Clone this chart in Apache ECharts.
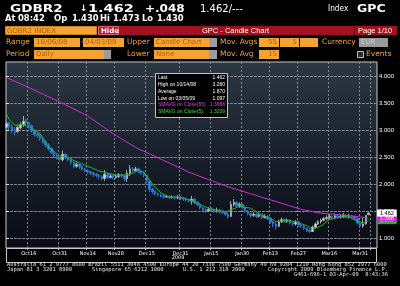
<!DOCTYPE html>
<html><head><meta charset="utf-8">
<script src="https://cdn.jsdelivr.net/npm/echarts@6/dist/echarts.min.js"></script>
<style>html,body{margin:0;padding:0;background:#000;}#c{width:400px;height:286px;}</style>
</head><body><div id="c"></div>
<script>
// ---------- data ----------
const startDate = '2008-10-06';
const endDate = '2009-04-03';
function businessDays(s, e) {
  const out = []; let d = new Date(s + 'T00:00:00Z'); const end = new Date(e + 'T00:00:00Z');
  while (d <= end) { const w = d.getUTCDay(); if (w !== 0 && w !== 6) out.push(d.toISOString().slice(0, 10)); d = new Date(d.getTime() + 86400000); }
  return out;
}
const categories = businessDays(startDate, endDate);

const opens = [
 3.05,3.13,3.06,3.00,2.97,3.04,3.10,3.17,3.13,3.08,
 2.99,2.92,2.90,2.85,2.78,2.72,2.66,2.58,2.52,2.47,
 2.45,2.55,2.50,2.45,2.40,2.33,2.36,2.32,2.28,2.25,
 2.22,2.20,2.18,2.16,2.14,2.10,2.18,2.12,2.15,2.12,
 2.14,2.17,2.15,2.10,2.20,2.28,2.25,2.28,2.24,2.20,
 2.16,2.05,1.90,1.86,1.82,1.80,1.78,1.76,1.77,1.75,
 1.76,1.74,1.76,1.73,1.72,1.70,1.69,1.72,1.66,1.62,
 1.56,1.52,1.50,1.53,1.51,1.50,1.52,1.48,1.47,1.44,
 1.40,1.62,1.66,1.60,1.62,1.56,1.50,1.45,1.42,1.44,
 1.40,1.43,1.38,1.40,1.36,1.30,1.26,1.22,1.30,1.34,
 1.31,1.33,1.28,1.26,1.30,1.24,1.22,1.18,1.14,1.12,
 1.20,1.26,1.30,1.33,1.36,1.38,1.40,1.38,1.41,1.39,
 1.40,1.42,1.39,1.41,1.38,1.36,1.28,1.22,1.26,1.430];
const closes = [
 3.12,3.06,3.00,2.97,3.05,3.10,3.16,3.14,3.08,2.98,
 2.92,2.90,2.84,2.78,2.72,2.65,2.58,2.52,2.48,2.46,
 2.55,2.50,2.45,2.40,2.33,2.36,2.32,2.28,2.25,2.22,
 2.20,2.18,2.16,2.14,2.10,2.18,2.12,2.15,2.12,2.14,
 2.17,2.15,2.10,2.20,2.28,2.25,2.28,2.24,2.20,2.16,
 2.05,1.90,1.86,1.82,1.80,1.78,1.76,1.77,1.75,1.76,
 1.74,1.76,1.73,1.72,1.70,1.69,1.72,1.66,1.62,1.56,
 1.52,1.50,1.53,1.51,1.50,1.52,1.48,1.47,1.44,1.40,
 1.62,1.66,1.60,1.62,1.56,1.50,1.45,1.42,1.44,1.40,
 1.43,1.38,1.40,1.36,1.30,1.26,1.22,1.30,1.34,1.31,
 1.33,1.28,1.26,1.30,1.24,1.22,1.18,1.14,1.12,1.20,
 1.26,1.30,1.33,1.36,1.38,1.40,1.38,1.41,1.39,1.40,
 1.42,1.39,1.41,1.38,1.36,1.28,1.22,1.26,1.414,1.462];
const lows = [
 3.02,3.00,2.94,2.90,2.95,3.01,3.06,3.08,3.03,2.95,
 2.88,2.85,2.80,2.75,2.68,2.62,2.55,2.48,2.45,2.42,
 2.42,2.46,2.42,2.36,2.29,2.30,2.28,2.25,2.22,2.19,
 2.17,2.14,2.12,2.10,2.07,2.06,2.09,2.10,2.09,2.10,
 2.11,2.12,2.05,2.04,2.15,2.21,2.22,2.20,2.17,2.12,
 2.02,1.85,1.82,1.79,1.77,1.75,1.73,1.74,1.72,1.73,
 1.71,1.72,1.70,1.69,1.67,1.66,1.62,1.63,1.59,1.53,
 1.49,1.47,1.48,1.48,1.47,1.47,1.45,1.44,1.41,1.36,
 1.39,1.58,1.57,1.56,1.53,1.47,1.42,1.38,1.39,1.37,
 1.38,1.35,1.36,1.33,1.27,1.20,1.16,1.20,1.28,1.28,
 1.28,1.25,1.22,1.23,1.21,1.18,1.15,1.11,1.097,1.11,
 1.18,1.24,1.27,1.31,1.33,1.35,1.34,1.36,1.36,1.36,
 1.37,1.36,1.36,1.35,1.33,1.25,1.20,1.19,1.25,1.430];
const highs = [
 3.16,3.15,3.10,3.05,3.09,3.14,3.26,3.21,3.16,3.10,
 3.02,2.97,2.93,2.88,2.81,2.75,2.68,2.61,2.55,2.51,
 2.62,2.58,2.53,2.48,2.42,2.40,2.38,2.34,2.30,2.27,
 2.25,2.23,2.20,2.18,2.16,2.26,2.20,2.19,2.17,2.18,
 2.20,2.19,2.17,2.26,2.35,2.31,2.32,2.30,2.26,2.22,
 2.17,2.07,1.93,1.88,1.84,1.82,1.80,1.80,1.79,1.79,
 1.78,1.80,1.78,1.76,1.75,1.73,1.78,1.74,1.68,1.64,
 1.58,1.55,1.57,1.56,1.54,1.56,1.54,1.52,1.50,1.46,
 1.68,1.72,1.68,1.66,1.64,1.58,1.52,1.47,1.48,1.46,
 1.47,1.45,1.44,1.42,1.38,1.32,1.28,1.34,1.38,1.36,
 1.36,1.35,1.30,1.33,1.32,1.27,1.24,1.20,1.18,1.23,
 1.29,1.33,1.36,1.39,1.42,1.44,1.42,1.45,1.43,1.44,
 1.46,1.44,1.45,1.43,1.42,1.38,1.31,1.37,1.43,1.473];

// moving averages (date, value)
const sma55Dates = ['2008-10-06','2008-10-15','2008-10-31','2008-11-14','2008-11-27','2008-12-10','2008-12-16','2008-12-22','2008-12-25','2009-01-05','2009-01-14','2009-01-26','2009-02-04','2009-02-09','2009-02-18','2009-03-02','2009-03-11','2009-03-20','2009-03-31','2009-04-03'];
const sma55Values = [3.97,3.81,3.52,3.26,2.93,2.65,2.56,2.46,2.39,2.22,2.08,1.93,1.82,1.77,1.66,1.53,1.46,1.43,1.39,1.3688];
const sma5Dates = ['2008-10-06','2008-10-07','2008-10-09','2008-10-14','2008-10-16','2008-10-20','2008-10-22','2008-10-27','2008-10-31','2008-11-05','2008-11-11','2008-11-14','2008-11-20','2008-11-26','2008-12-01','2008-12-05','2008-12-10','2008-12-12','2008-12-16','2008-12-18','2008-12-22','2008-12-25','2008-12-31','2009-01-05','2009-01-09','2009-01-14','2009-01-20','2009-01-22','2009-01-26','2009-01-29','2009-02-04','2009-02-09','2009-02-13','2009-02-17','2009-02-23','2009-02-26','2009-03-04','2009-03-06','2009-03-11','2009-03-16','2009-03-20','2009-03-25','2009-03-30','2009-04-01','2009-04-03'];
const sma5Values = [3.30,3.19,3.09,3.10,3.06,3.00,2.93,2.69,2.52,2.48,2.39,2.33,2.24,2.19,2.16,2.18,2.25,2.22,2.08,1.93,1.84,1.76,1.75,1.71,1.62,1.55,1.51,1.48,1.52,1.59,1.55,1.45,1.37,1.30,1.33,1.30,1.23,1.16,1.22,1.34,1.39,1.39,1.31,1.28,1.3209];

const tickDates = ['2008-10-16','2008-10-31','2008-11-14','2008-11-28','2008-12-15','2008-12-31','2009-01-15','2009-01-30','2009-02-13','2009-02-27','2009-03-16','2009-03-31'];
const tickLabels = ['Oct16','Oct31','Nov14','Nov28','Dec15','Dec31','Jan15','Jan30','Feb13','Feb27','Mar16','Mar31'];
const yearLabel = '2009';

const tagValues = [1.3209, 1.3688, 1.462];
const tagTexts = ['1.320', '1.368', '1.462'];

const infoLabels = ['Last', 'High on 10/14/08', 'Average', 'Low on 03/05/09', 'SMAVG on Close(55)', 'SMAVG on Close(5)'];
const infoValues = ['1.462', '3.260', '1.870', '1.097', '1.3688', '1.3209'];

// ---------- build ----------
const candleData = categories.map((c, i) => [opens[i], closes[i], lows[i], highs[i]]);
function alignTo(dates, vals) { const m = {}; dates.forEach((d, i) => m[d] = vals[i]); return categories.map(c => (c in m ? m[c] : null)); }
const sma55Data = alignTo(sma55Dates, sma55Values);
const sma5Data = alignTo(sma5Dates, sma5Values);
const tickSet = new Set(tickDates);
const isTick = (idx, val) => tickSet.has(val !== undefined ? val : categories[idx]);

const ORANGE = '#f5a331', BOXTXT = '#b35f00', MAG = '#cc2ccc', GRN = '#22b422';
const G = [];
function txt(x, y, text, font, fill, extra) {
  G.push(Object.assign({ type: 'text', x: x, y: y, z: 100, silent: true,
    style: { text: text, font: font, fill: fill, align: 'left', verticalAlign: 'middle' } }, extra || {}));
}
function box(x, y, w, h, fill, stroke) {
  G.push({ type: 'rect', z: 99, silent: true, shape: { x: x, y: y, width: w, height: h },
    style: { fill: fill, stroke: stroke || null, lineWidth: stroke ? 1 : 0 } });
}
// header line 1
txt(10, 9, 'GDBR2', 'bold 10px "DejaVu Sans"', '#fff', { scaleX: 1.36 });
txt(80, 9, '\u2193', 'bold 9px "DejaVu Sans"', '#fff');
txt(88, 9, '1.462', 'bold 10px "DejaVu Sans"', '#fff', { scaleX: 1.45 });
txt(145, 9, '+.048', 'bold 10px "DejaVu Sans"', '#fff', { scaleX: 1.2 });
txt(200, 9, '1.462/---', '10px "DejaVu Sans"', '#fff');
txt(328, 9, 'Index', '8px "DejaVu Sans"', '#fff', { scaleX: 0.92 });
txt(357, 9, 'GPC', 'bold 10px "DejaVu Sans"', '#fff', { scaleX: 1.25 });
// header line 2
[['At',5],['08:42',18],['Op',54],['1.430',72],['Hi',100],['1.473',113],['Lo',142],['1.430',157]].forEach(p =>
  txt(p[1], 18.5, p[0], 'bold 8px "DejaVu Sans"', '#fff', { scaleX: 1.05 }));
// row 3
box(5.5, 26.5, 91, 8, ORANGE, '#c9801c');
txt(7, 31, 'GDBR2 INDEX', '7px "DejaVu Sans"', BOXTXT);
box(119, 26, 278, 9, '#a3101f');
box(98.5, 26.5, 20, 8, '#c8142c', '#e06070');
txt(101, 31, 'Hide', 'bold 7px "DejaVu Sans"', '#fff');
txt(202, 31, 'GPC - Candle Chart', '7.5px "Liberation Sans"', '#fff');
box(354, 26, 1, 9, '#6a0810');
txt(358, 31, 'Page 1/10', '7.5px "Liberation Sans"', '#fff');
// row 4
const r4 = 42.5, r5 = 54.5;
txt(6, r4, 'Range', '7.5px "DejaVu Sans"', ORANGE);
box(34, 38, 46, 9, ORANGE); txt(36, r4, '10/06/08', '7px "DejaVu Sans"', BOXTXT);
txt(81, r4, '-', '7.5px "DejaVu Sans"', ORANGE);
box(83, 38, 41, 9, ORANGE); txt(85, r4, '04/03/09', '7px "DejaVu Sans"', BOXTXT);
txt(127, r4, 'Upper', '7.5px "DejaVu Sans"', ORANGE);
box(154, 38, 63, 9, ORANGE); txt(156, r4, 'Candle Chart', '7px "DejaVu Sans"', BOXTXT);
box(209, 38, 8, 9, '#9c9c9c');
txt(220, r4, 'Mov. Avgs', '7.5px "DejaVu Sans"', ORANGE);
box(259, 38, 20, 9, ORANGE); txt(277, r4, '55', '7px "DejaVu Sans"', BOXTXT, {});
box(280, 38, 19, 9, ORANGE); txt(297, r4, '5', '7px "DejaVu Sans"', BOXTXT);
box(300, 38, 18, 9, ORANGE);
txt(322, r4, 'Currency', '7.5px "DejaVu Sans"', ORANGE);
box(359, 38, 29, 9, '#9a9a9a'); txt(361, r4, 'EUR', '7px "DejaVu Sans"', '#cfcfcf');
// row 5
txt(6, r5, 'Period', '7.5px "DejaVu Sans"', ORANGE);
box(34, 50, 77, 9, ORANGE); txt(36, r5, 'Daily', '7px "DejaVu Sans"', BOXTXT);
box(104, 50, 7, 9, '#9c9c9c');
txt(127, r5, 'Lower', '7.5px "DejaVu Sans"', ORANGE);
box(154, 50, 63, 9, ORANGE); txt(156, r5, 'None', '7px "DejaVu Sans"', BOXTXT);
box(209, 50, 8, 9, '#9c9c9c');
txt(220, r5, 'Mov. Avg', '7.5px "DejaVu Sans"', ORANGE);
box(259, 50, 20, 9, ORANGE); txt(277, r5, '15', '7px "DejaVu Sans"', BOXTXT);
box(357.5, 51.5, 6, 6, '#2a2a2a', '#bdbdbd');
txt(366, r5, 'Events', '7.5px "DejaVu Sans"', ORANGE);
// right-align numeric box texts
G.forEach(e => { if (e.type === 'text' && (e.x === 277 || e.x === 297)) e.style.align = 'right'; });
// info box
box(155.5, 73.5, 72, 44, '#000', '#c4c4c4');
const infoY = [77.5, 84.5, 91.3, 98.2, 105, 111.8];
const infoColors = ['#fff', '#fff', '#fff', '#fff', '#e040e0', '#30e030'];
infoLabels.forEach((t, i) => {
  txt(158, infoY[i], t, '5px "Liberation Sans"', infoColors[i]);
  txt(225, infoY[i], infoValues[i], '5px "Liberation Sans"', infoColors[i], {});
});
G.forEach(e => { if (e.type === 'text' && e.x === 225) e.style.align = 'right'; });
// x label strip
G.push({ type: 'rect', z: 98, silent: true, shape: { x: 6.5, y: 248.5, width: 370, height: 14 }, style: { fill: null, stroke: '#c8c8c8', lineWidth: 1 } });
txt(178, 257.5, yearLabel, '5px "DejaVu Sans"', '#fff', { style: { text: yearLabel, font: '5px "DejaVu Sans"', fill: '#fff', align: 'center', verticalAlign: 'middle' } });
// footer
const FF = '5.4px "DejaVu Sans Mono"';
txt(7, 265, 'Australia 61 2 9777 8600 Brazil 5511 3048 4500 Europe 44 20 7330 7500 Germany 49 69 9204 1210 Hong Kong 852 2977 6000', FF, '#e6e6e6');
txt(7, 270, 'Japan 81 3 3201 8900', FF, '#e6e6e6');
txt(92, 270, 'Singapore 65 6212 1000', FF, '#e6e6e6');
txt(183, 270, 'U.S. 1 212 318 2000', FF, '#e6e6e6');
txt(268, 270, 'Copyright 2009 Bloomberg Finance L.P.', FF, '#e6e6e6');
txt(388, 275, 'G461-696-1 03-Apr-09  8:43:36', FF, '#e6e6e6', { style: { text: 'G461-696-1 03-Apr-09  8:43:36', font: FF, fill: '#e6e6e6', align: 'right', verticalAlign: 'middle' } });

const grad = new echarts.graphic.LinearGradient(0, 0, 0, 1, [
  { offset: 0, color: '#2c3844' }, { offset: 0.45, color: '#1a222d' }, { offset: 1, color: '#0a0b15' }]);

const option = {
  backgroundColor: '#000',
  animation: false,
  grid: [
    { left: 6, top: 62, width: 371, height: 186, show: true, backgroundColor: grad, borderColor: '#c8c8c8', borderWidth: 1 },
    { left: 5, top: 62, width: 365, height: 186 },
    { left: 6, top: 76, width: 371, height: 162 }
  ],
  xAxis: [
    { gridIndex: 0, type: 'value', show: false, min: 0, max: 1 },
    { gridIndex: 1, type: 'category', data: categories, boundaryGap: true,
      axisLine: { show: false },
      axisTick: { show: true, interval: isTick, length: 2, lineStyle: { color: '#d0d0d0' } },
      axisLabel: { interval: isTick, formatter: v => tickLabels[tickDates.indexOf(v)] || '', fontSize: 5, color: '#fff', margin: 3, fontFamily: 'DejaVu Sans' },
      splitLine: { show: true, interval: isTick, lineStyle: { color: '#80878e', type: [2, 2], width: 1 } } },
    { gridIndex: 2, type: 'value', show: false, min: 0, max: 1 }
  ],
  yAxis: [
    { gridIndex: 0, type: 'value', show: false, min: 0, max: 1 },
    { gridIndex: 1, type: 'value', show: false, min: 1 - 10 / 54, max: 4 + 14 / 54 },
    { gridIndex: 2, type: 'value', position: 'right', min: 1, max: 4, interval: 0.5,
      axisLine: { show: false },
      axisTick: { show: true, length: 3, lineStyle: { color: '#dddddd' } },
      axisLabel: { formatter: v => v.toFixed(3), fontSize: 6, color: '#fff', margin: 2, fontFamily: 'Liberation Sans' },
      splitLine: { show: true, lineStyle: { color: '#80878e', type: [3, 1], width: 1 } } }
  ],
  series: [
    { type: 'candlestick', xAxisIndex: 1, yAxisIndex: 1, data: candleData, barWidth: 2, clip: false, z: 2,
      itemStyle: { color: '#e4e4e4', color0: '#1f86f0', borderColor: '#a8a8a8', borderColor0: '#2a78d8', borderWidth: 1 },
      markLine: { silent: true, symbol: ['none', 'none'], precision: 4,
        lineStyle: { color: 'rgba(0,0,0,0)', width: 0 },
        label: { show: true, position: 'end', distance: 7, fontSize: 5.5, fontFamily: 'Liberation Sans', padding: [1, 3, 0, 3] },
        data: [
          { yAxis: tagValues[0], label: { formatter: tagTexts[0], backgroundColor: GRN, color: '#fff' } },
          { yAxis: tagValues[1], label: { formatter: tagTexts[1], backgroundColor: '#e020e0', color: '#fff' } },
          { yAxis: tagValues[2], label: { formatter: tagTexts[2], backgroundColor: '#ffffff', color: '#000' } }
        ] } },
    { type: 'line', name: 'SMAVG(55)', xAxisIndex: 1, yAxisIndex: 1, data: sma55Data, connectNulls: true, symbol: 'none', smooth: false, z: 3,
      lineStyle: { color: MAG, width: 1 } },
    { type: 'line', name: 'SMAVG(5)', xAxisIndex: 1, yAxisIndex: 1, data: sma5Data, connectNulls: true, symbol: 'none', smooth: false, z: 3,
      lineStyle: { color: GRN, width: 1 } }
  ],
  graphic: { elements: G }
};
const chart = echarts.init(document.getElementById('c'), null, { renderer: 'canvas' });
chart.setOption(option);
</script>
</body></html>
